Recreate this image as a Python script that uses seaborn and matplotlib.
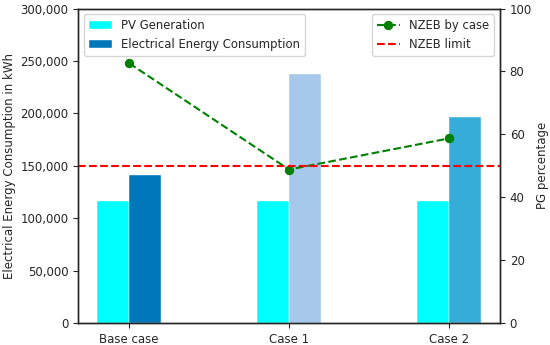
import pandas as pd
import numpy as np
import matplotlib.pyplot as plt
import seaborn as sns

cases = ['Base case', 'Case 1', 'Case 2']
pv_generation = [116000, 116000, 116000]
consumption = [141000, 237500, 197000]
nzeb_pct = [82.6, 48.8, 58.7]
nzeb_limit = 50

pv_color = '#00ffff'
cons_colors = ['#0077bb', '#a6c8ea', '#36acd8']

sns.set_style('ticks')
plt.rcParams['font.family'] = ['DejaVu Sans']
plt.rcParams['font.size'] = 8.5
plt.rcParams['legend.fontsize'] = 8.4

df = pd.DataFrame({
    'case': cases * 2,
    'value': pv_generation + consumption,
    'series': ['PV Generation'] * 3 + ['Electrical Energy Consumption'] * 3,
})

fig, ax = plt.subplots(figsize=(5.5, 3.45), dpi=100)
sns.barplot(data=df, x='case', y='value', hue='series', ax=ax, width=0.4,
            palette=[pv_color, cons_colors[0]], saturation=1, dodge=True)

# consumption bars get their own colour per case
cons_bars = ax.containers[1]
for p, c in zip(cons_bars, cons_colors):
    p.set_facecolor(c)
for p in ax.patches:
    p.set_edgecolor('white')
    p.set_linewidth(0.3)

ax.set_xlim(-0.32, 2.32)
ax.set_ylim(0, 300000)
ax.set_yticks(np.arange(0, 300001, 50000))
ax.yaxis.set_major_formatter(plt.FuncFormatter(lambda v, _: f'{v:,.0f}'))
ax.set_xlabel('')
ax.set_ylabel('Electrical Energy Consumption in kWh', labelpad=3)
ax.legend(loc='upper left', frameon=True)

ax2 = ax.twinx()
sns.lineplot(x=np.arange(len(cases)), y=nzeb_pct, ax=ax2, color='green',
             marker='o', markersize=6, markeredgecolor='green', linestyle='--',
             label='NZEB by case')
ax2.axhline(nzeb_limit, color='red', linestyle='--', label='NZEB limit')
ax2.set_ylim(0, 100)
ax2.set_ylabel('PG percentage', labelpad=3)
ax2.legend(loc='upper right', frameon=True)

for a in (ax, ax2):
    for s in a.spines.values():
        s.set_linewidth(1.0)

fig.subplots_adjust(left=0.142, right=0.909, top=0.975, bottom=0.064)
fig.savefig('out.png', dpi=100)
